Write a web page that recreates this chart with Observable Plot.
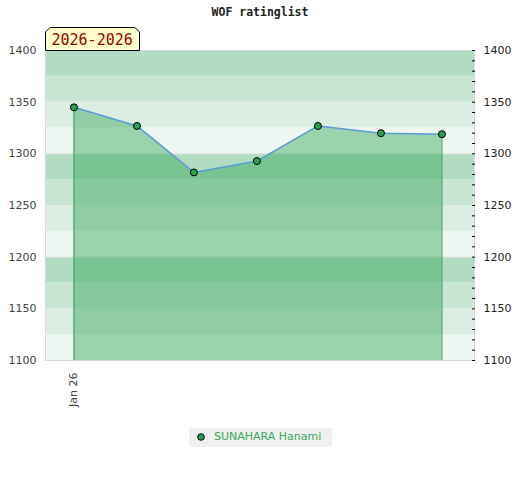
<!DOCTYPE html>
<html>
<head>
<meta charset="utf-8">
<script src="https://cdn.jsdelivr.net/npm/d3@7"></script>
<script src="https://cdn.jsdelivr.net/npm/@observablehq/plot@0.6"></script>
<style>
  body { margin: 0; background: #fff; }
  #wrap { position: relative; width: 520px; height: 480px; font-family: "DejaVu Sans", sans-serif; }
  #title { position: absolute; left: 0; width: 520px; top: 5px; text-align: center; font: bold 11.5px "DejaVu Sans Mono", monospace; color: #222; }
  #period { position: absolute; left: 45px; top: 27px; width: 95px; height: 24px; }
  #chart { position: absolute; left: 0; top: 0; }
  #legend { position: absolute; left: 189px; top: 428px; width: 143px; height: 19px; background: #f0f0f0; font-size: 11px; color: #3aa85a; }
  #legend svg { position: absolute; left: 7px; top: 4px; }
  #legend span { position: absolute; left: 25px; top: 2px; white-space: nowrap; }
</style>
</head>
<body>
<div id="wrap">
  <div id="chart"></div>
  <div id="title">WOF ratinglist</div>
  <svg id="period" width="95" height="24" viewBox="0 0 95 24">
    <polygon points="0.5,23.5 0.5,5 5,0.5 90,0.5 94.5,5 94.5,23.5" fill="#ffffcc" stroke="#000" stroke-width="1"/>
    <text x="6.5" y="17.5" font-family="DejaVu Sans Mono" font-size="15" fill="#990000">2026-2026</text>
  </svg>
  <div id="legend">
    <svg width="10" height="10"><circle cx="5" cy="5" r="3.3" fill="#2e9e55" stroke="#000" stroke-width="1"/></svg>
    <span>SUNAHARA Hanami</span>
  </div>
</div>
<script>
// Data
const dates = ["2026-01-01", "2026-02-01", "2026-03-01", "2026-04-01", "2026-05-01", "2026-06-01", "2026-07-01"];
const ratings = [1345, 1327, 1282, 1293, 1327, 1320, 1319];
const player = "SUNAHARA Hanami";
const xTickDates = ["2026-01-01"];
const yLabelTicks = [1100, 1150, 1200, 1250, 1300, 1350, 1400];
const yMinorTicks = [1100, 1110, 1120, 1130, 1140, 1150, 1160, 1170, 1180, 1190, 1200, 1210, 1220, 1230, 1240, 1250, 1260, 1270, 1280, 1290, 1300, 1310, 1320, 1330, 1340, 1350, 1360, 1370, 1380, 1390, 1400];
const bandLows = [1100, 1125, 1150, 1175, 1200, 1225, 1250, 1275, 1300, 1325, 1350, 1375];
const bandShades = ["#eef7f1", "#dcede3", "#c9e6d5", "#b2dcc2"];
const blockLines = [1200, 1300];

const data = dates.map((d, i) => ({date: new Date(d), rating: ratings[i], name: player}));
const bands = bandLows.map((lo, i) => ({lo, hi: lo + 25, shade: bandShades[i % 4]}));
const first = data[0], last = data[data.length - 1];

const chart = Plot.plot({
  width: 520,
  height: 420,
  marginLeft: 45,
  marginRight: 46,
  marginTop: 50,
  marginBottom: 60,
  style: {fontFamily: "DejaVu Sans, sans-serif", fontSize: "11px", background: "transparent", overflow: "visible"},
  x: {type: "utc", domain: [new Date("2025-12-18"), new Date("2026-07-17")]},
  y: {domain: [1100, 1400]},
  marks: [
    Plot.rect(bands, {y1: "lo", y2: "hi", fill: "shade"}),
    Plot.ruleY(blockLines, {stroke: "#e2e2e2", strokeWidth: 1}),
    Plot.areaY(data, {x: "date", y1: 1100, y2: "rating", fill: "#34a759", fillOpacity: 0.45, curve: "linear"}),
    Plot.ruleX([first, last], {x: "date", y1: 1100, y2: "rating", stroke: "#3a9a5a", strokeWidth: 1}),
    Plot.line(data, {x: "date", y: "rating", stroke: "#5b9bd5", strokeWidth: 1.5}),
    Plot.dot(data, {x: "date", y: "rating", r: 3.5, fill: "#2e9e55", stroke: "#000", strokeWidth: 1}),
    Plot.frame({stroke: "#d9d9d9", strokeWidth: 1}),
    Plot.axisY(yLabelTicks, {anchor: "left", tickSize: 0, tickPadding: 9, tickFormat: "d", label: null, fill: "#444"}),
    Plot.axisY(yMinorTicks, {anchor: "right", tickSize: 3, dx: -3, text: null, label: null, stroke: "#000"}),
    Plot.axisY(yLabelTicks, {anchor: "right", tickSize: 0, tickPadding: 9, tickFormat: "d", label: null, fill: "#222"}),
    Plot.axisX(xTickDates.map(d => new Date(d)), {anchor: "bottom", tickSize: 0, tickPadding: 12, tickRotate: -90, tickFormat: "%b %y", label: null, fill: "#444"})
  ]
});
document.getElementById("chart").appendChild(chart);
</script>
</body>
</html>
